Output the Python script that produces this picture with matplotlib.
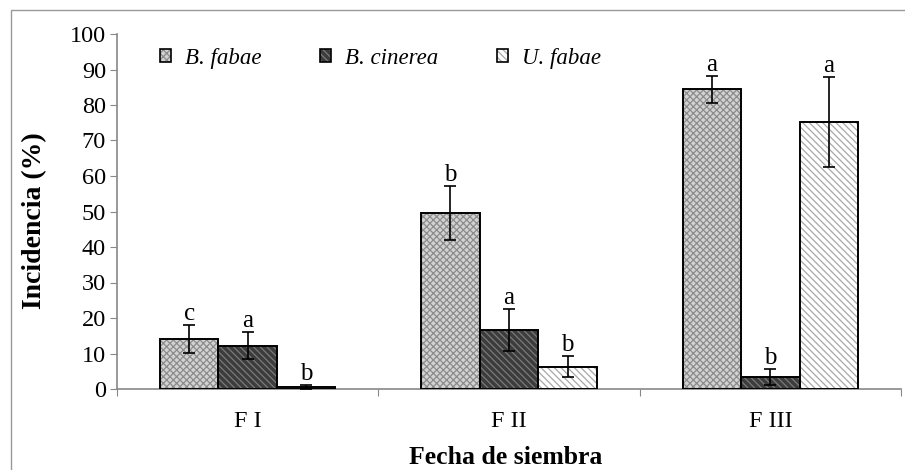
import matplotlib
matplotlib.use("Agg")
import matplotlib.pyplot as plt
import numpy as np
from matplotlib.patches import Patch, Rectangle
from matplotlib.legend_handler import HandlerTuple

categories = ["F I", "F II", "F III"]
series = ["B. fabae", "B. cinerea", "U. fabae"]
b_fabae = [14.1, 49.6, 84.5]
b_fabae_err = [4.0, 7.6, 3.8]
b_cinerea = [12.2, 16.6, 3.4]
b_cinerea_err = [3.8, 5.8, 2.2]
u_fabae = [0.5, 6.3, 75.2]
u_fabae_err = [0.5, 3.0, 12.8]
letters_fabae = ["c", "b", "a"]
letters_cinerea = ["a", "a", "b"]
letters_ufabae = ["b", "b", "a"]

plt.rcParams['font.family'] = ['Liberation Serif', 'DejaVu Serif']
plt.rcParams['hatch.linewidth'] = 0.9

fig = plt.figure(figsize=(9.05, 4.7), dpi=100)
ax = fig.add_axes([117/905, 1-389/470, (901-117)/905, (389-34)/470])

vals = [b_fabae, b_cinerea, u_fabae]
errs = [b_fabae_err, b_cinerea_err, u_fabae_err]
lets = [letters_fabae, letters_cinerea, letters_ufabae]
faces = ['#d2d2d2', '#3c3c3c', '#ffffff']
hcols = ['#8c8c8c', '#7a7a7a', '#a8a8a8']
hatches = ['xxxxx', '\\\\\\\\\\', '\\\\\\\\\\']
w = 0.224
x = np.arange(len(categories))
handles = []
for k in range(3):
    pos = x + (k - 1) * w
    ax.bar(pos, vals[k], w, color=faces[k], hatch=hatches[k], edgecolor=hcols[k], linewidth=0, zorder=2)
    ax.bar(pos, vals[k], w, fill=False, edgecolor='black', linewidth=1.4, zorder=3)
    ax.errorbar(pos, vals[k], yerr=errs[k], fmt='none', ecolor='black', elinewidth=1.2,
                capsize=4, capthick=1.2, zorder=4)
    for p, v, e, t in zip(pos, vals[k], errs[k], lets[k]):
        ax.annotate(t, (p, v + e), xytext=(0, 0), textcoords='offset points',
                    ha='center', va='bottom', fontsize=18)
    h1 = Patch(facecolor=faces[k], hatch=hatches[k], edgecolor=hcols[k], linewidth=0)
    h2 = Patch(fill=False, edgecolor='black', linewidth=1.2)
    handles.append((h1, h2))

ax.set_xlim(-0.5, 2.5)
ax.set_ylim(0, 100)
ax.set_yticks(np.arange(0, 101, 10))
ax.set_xticks([-0.5, 0.5, 1.5, 2.5])
ax.set_xticklabels([])
ax.set_xticks(x, minor=True)
ax.set_xticklabels(categories, minor=True, fontsize=17.5)
ax.tick_params(axis='x', which='minor', length=0, pad=16)
ax.tick_params(axis='x', which='major', length=5, color='#888888', direction='out')
ax.tick_params(axis='y', length=5, color='#888888', labelsize=17.5, pad=3)
for s in ['top', 'right']:
    ax.spines[s].set_visible(False)
for s in ['left', 'bottom']:
    ax.spines[s].set_color('#888888')
    ax.spines[s].set_linewidth(1.2)

leg = ax.legend(handles, series, handler_map={tuple: HandlerTuple(ndivide=1, pad=0)},
                loc='upper left', bbox_to_anchor=(22/784, 1.02), ncol=3, frameon=False,
                prop={'style': 'italic', 'size': 16.5}, handlelength=0.5, handleheight=0.5,
                handletextpad=0.6, columnspacing=2.55)

fig.text(35/905, 1-221/470, "Incidencia (%)", rotation=90, ha='center', va='center',
         fontsize=20, fontweight='bold')
fig.text(506/905, 1-464/470, "Fecha de siembra", ha='center', va='baseline',
         fontsize=18.5, fontweight='bold')
fig.patches.append(Rectangle((11/905, -0.1), 1.2, 1-10/470 + 0.1, transform=fig.transFigure,
                             fill=False, edgecolor='#999999', linewidth=1.0))

fig.savefig("out.png", dpi=100)
